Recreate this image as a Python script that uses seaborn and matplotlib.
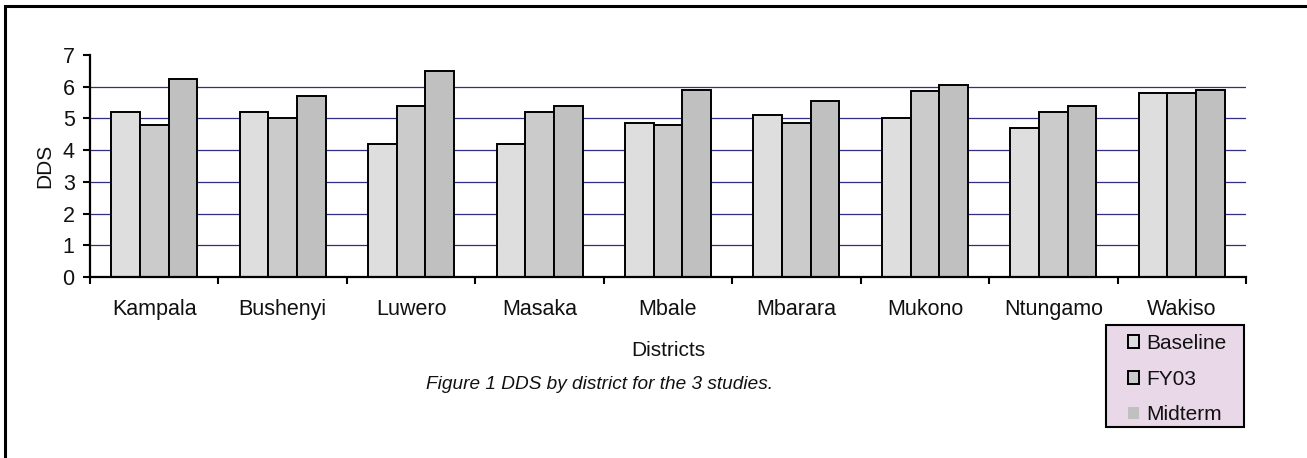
import matplotlib
matplotlib.use("Agg")
import matplotlib.pyplot as plt
from matplotlib.patches import Patch, Rectangle
import numpy as np
import pandas as pd
import seaborn as sns

# DDS (dietary diversity score) by district for the three surveys
districts = ["Kampala", "Bushenyi", "Luwero", "Masaka", "Mbale",
             "Mbarara", "Mukono", "Ntungamo", "Wakiso"]
baseline = [5.2, 5.2, 4.2, 4.2, 4.85, 5.1, 5.0, 4.7, 5.8]
fy03 = [4.8, 5.0, 5.4, 5.2, 4.8, 4.85, 5.85, 5.2, 5.8]
midterm = [6.25, 5.7, 6.5, 5.4, 5.9, 5.55, 6.05, 5.4, 5.9]
studies = ["Baseline", "FY03", "Midterm"]
y_ticks = [0, 1, 2, 3, 4, 5, 6, 7]

colors = {"Baseline": "#DEDEDE", "FY03": "#CBCBCB", "Midterm": "#C0C0C0"}

df = pd.DataFrame({
    "District": districts * 3,
    "Study": np.repeat(studies, len(districts)),
    "DDS": baseline + fy03 + midterm,
})

sns.set_theme(style="white")
plt.rcParams["font.family"] = ["Liberation Sans", "DejaVu Sans"]

W, H = 1307, 458
fig = plt.figure(figsize=(W / 100, H / 100), dpi=100)
ax = fig.add_axes([90 / W, 1 - 277 / H, (1246 - 90) / W, (277 - 55) / H])

# horizontal grid behind the bars (no line at the top value)
for v in y_ticks[1:-1]:
    ax.axhline(v, color="#2E2E86", lw=0.9, zorder=0)

sns.barplot(data=df, x="District", y="DDS", hue="Study", order=districts,
            hue_order=studies, palette=colors, width=0.67, gap=0,
            edgecolor="black", linewidth=1.4, saturation=1, ax=ax,
            legend=False, zorder=2)

ax.set_xlim(-0.5, len(districts) - 0.5)
ax.set_ylim(0, 7)
ax.set_yticks(y_ticks)
ax.set_yticklabels([str(t) for t in y_ticks], fontsize=15.5)

# category labels centred, tick marks between categories
ax.set_xticks(range(len(districts)))
ax.set_xticklabels(districts, fontsize=15.5)
ax.set_xticks(np.arange(-0.5, len(districts), 1.0), minor=True)
ax.tick_params(axis="x", which="major", length=0, pad=16, colors="black",
               labelcolor="#111111")
ax.tick_params(axis="x", which="minor", length=5, width=1.5,
               direction="out", bottom=True, color="black")
ax.tick_params(axis="y", length=5, width=1.5, direction="out", left=True,
               pad=6, colors="black", labelcolor="#111111")

for side in ("top", "right"):
    ax.spines[side].set_visible(False)
for side in ("left", "bottom"):
    ax.spines[side].set_color("black")
    ax.spines[side].set_linewidth(1.6)

ax.set_xlabel("Districts", fontsize=15, color="#111111")
ax.xaxis.set_label_coords(0.5, -0.29)
ax.set_ylabel("DDS", fontsize=15, color="#111111")
ax.yaxis.set_label_coords(-0.0305, 0.5)

fig.text(600 / W, 1 - 389 / H, "Figure 1 DDS by district for the 3 studies.",
         fontsize=13.7, style="italic", ha="center", va="baseline",
         color="#111111")

# legend panel: shaded box with the entries placed inside it
fig.patches.append(Rectangle((1106 / W, 1 - 427 / H), (1244 - 1106) / W,
                             (427 - 325) / H, transform=fig.transFigure,
                             facecolor="#E8D8E8", edgecolor="black",
                             linewidth=1.5, zorder=4))
handles = [
    Patch(facecolor=colors["Baseline"], edgecolor="black", linewidth=1.4),
    Patch(facecolor=colors["FY03"], edgecolor="black", linewidth=1.4),
    Patch(facecolor=colors["Midterm"], edgecolor="none"),
]
leg = fig.legend(handles, studies, loc="upper left",
                 bbox_to_anchor=(1128 / W, 1 - 334 / H),
                 bbox_transform=fig.transFigure, borderaxespad=0,
                 fontsize=15, frameon=False,
                 handlelength=0.52, handleheight=0.55, handletextpad=0.38,
                 labelspacing=0.8, borderpad=0)
leg.set_zorder(6)
for t in leg.get_texts():
    t.set_color("#111111")

# outer frame around the figure panel
fig.patches.append(Rectangle((5 / W, -0.1), 1.2, 1 - 6 / H + 0.1,
                             transform=fig.transFigure, fill=False,
                             edgecolor="black", linewidth=2.2, zorder=10))

fig.savefig("out.png", dpi=100, facecolor="white")
